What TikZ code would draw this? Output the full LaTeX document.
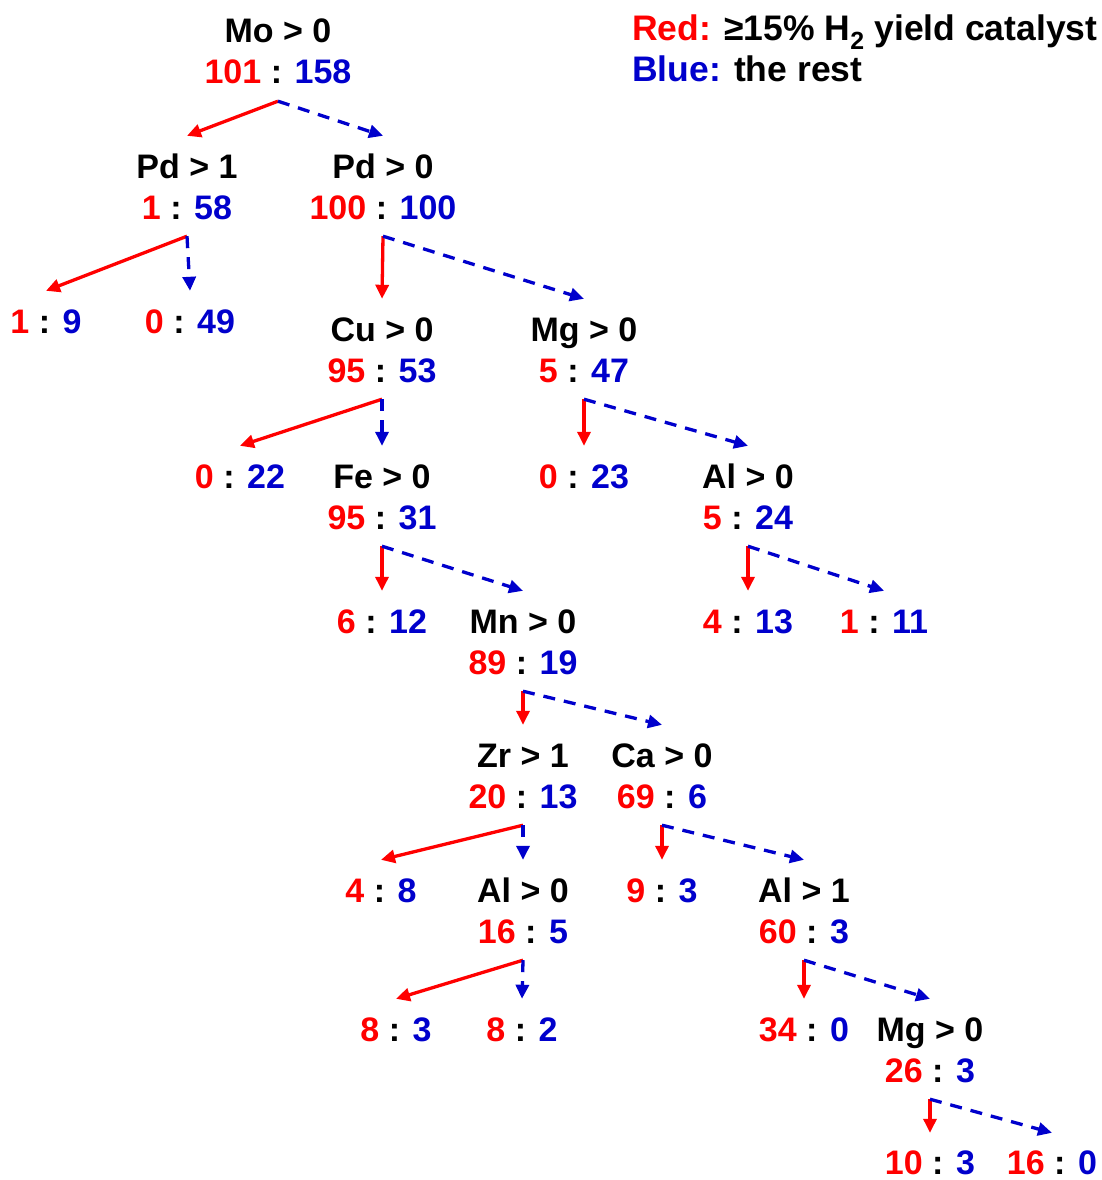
\documentclass[tikz,border=0pt]{standalone}
\usepackage{fontspec}
\setmainfont{Liberation Sans}
\usepackage{xcolor}
\usepackage{tikz}
\usetikzlibrary{arrows.meta, positioning}

\definecolor{tred}{HTML}{FF0000}
\definecolor{tblue}{HTML}{0000CC}
\newcommand{\redn}[1]{\textcolor{tred}{#1}}
\newcommand{\bluen}[1]{\textcolor{tblue}{#1}}

\tikzset{
  %% Split condition (first line)
  cond/.style={
    anchor=base, inner xsep=0pt, inner ysep=17pt,
    text height=25pt, text depth=0pt,
    font=\bfseries\fontsize{34}{41}\selectfont
  },
  %% Red : blue counts
  cnt/.style={cond},
  %% Legend lines
  legtxt/.style={
    anchor=base west, inner sep=0pt,
    font=\bfseries\fontsize{35.5}{41}\selectfont
  },
  %% Arrows
  rarr/.style={-{Triangle[length=14pt,width=13pt]},
               draw=tred, line width=3.3pt},
  barr/.style={-{Triangle[length=14pt,width=13pt]},
               draw=tblue, line width=3.3pt,
               dash pattern=on 12pt off 9pt},
}

\begin{document}
\begin{tikzpicture}[x=1pt, y=-1pt]

  \useasboundingbox (0,0) rectangle (1102,1180);

  %% Legend
  \node[legtxt] (leg1) at (632,41)
        {\redn{Red:} ≥15\% H\textsubscript{2} yield catalyst};
  \node[legtxt] (leg2) at (632,82)
        {\bluen{Blue:} the rest};

  %% Root
  \node[cond] (mo) at (278,43) {Mo > 0};
  \node[cnt] (moC) at ([yshift=-41pt]mo.base) {\redn{101} : \bluen{158}};

  %% Level 1
  \node[cond] (pdA) at (187,178) {Pd > 1};
  \node[cnt] (pdAC) at ([yshift=-41pt]pdA.base) {\redn{1} : \bluen{58}};
  \node[cond] (pdB) at (383,178) {Pd > 0};
  \node[cnt] (pdBC) at ([yshift=-41pt]pdB.base) {\redn{100} : \bluen{100}};

  %% Level 2
  \node[cnt] (l19)  at (46,333)  {\redn{1} : \bluen{9}};
  \node[cnt] (l049) at (190,333) {\redn{0} : \bluen{49}};
  \node[cond] (cu) at (382,341) {Cu > 0};
  \node[cnt] (cuC) at ([yshift=-41pt]cu.base) {\redn{95} : \bluen{53}};
  \node[cond] (mgA) at (584,341) {Mg > 0};
  \node[cnt] (mgAC) at ([yshift=-41pt]mgA.base) {\redn{5} : \bluen{47}};

  %% Level 3
  \node[cnt] (l022) at (240,488) {\redn{0} : \bluen{22}};
  \node[cond] (fe) at (382,488) {Fe > 0};
  \node[cnt] (feC) at ([yshift=-41pt]fe.base) {\redn{95} : \bluen{31}};
  \node[cnt] (l023) at (584,488) {\redn{0} : \bluen{23}};
  \node[cond] (alA) at (748,488) {Al > 0};
  \node[cnt] (alAC) at ([yshift=-41pt]alA.base) {\redn{5} : \bluen{24}};

  %% Level 4
  \node[cnt] (l612) at (382,633) {\redn{6} : \bluen{12}};
  \node[cond] (mn) at (523,633) {Mn > 0};
  \node[cnt] (mnC) at ([yshift=-41pt]mn.base) {\redn{89} : \bluen{19}};
  \node[cnt] (l413) at (748,633) {\redn{4} : \bluen{13}};
  \node[cnt] (l111) at (884,633) {\redn{1} : \bluen{11}};

  %% Level 5
  \node[cond] (zr) at (523,767) {Zr > 1};
  \node[cnt] (zrC) at ([yshift=-41pt]zr.base) {\redn{20} : \bluen{13}};
  \node[cond] (ca) at (662,767) {Ca > 0};
  \node[cnt] (caC) at ([yshift=-41pt]ca.base) {\redn{69} : \bluen{6}};

  %% Level 6
  \node[cnt] (l48) at (381,902) {\redn{4} : \bluen{8}};
  \node[cond] (alB) at (523,902) {Al > 0};
  \node[cnt] (alBC) at ([yshift=-41pt]alB.base) {\redn{16} : \bluen{5}};
  \node[cnt] (l93) at (662,902) {\redn{9} : \bluen{3}};
  \node[cond] (alC) at (804,902) {Al > 1};
  \node[cnt] (alCC) at ([yshift=-41pt]alC.base) {\redn{60} : \bluen{3}};

  %% Level 7
  \node[cnt] (l83)  at (396,1041) {\redn{8} : \bluen{3}};
  \node[cnt] (l82)  at (522,1041) {\redn{8} : \bluen{2}};
  \node[cnt] (l340) at (804,1041) {\redn{34} : \bluen{0}};
  \node[cond] (mgB) at (930,1041) {Mg > 0};
  \node[cnt] (mgBC) at ([yshift=-41pt]mgB.base) {\redn{26} : \bluen{3}};

  %% Level 8
  \node[cnt, inner ysep=0pt] (l103) at (930,1174)  {\redn{10} : \bluen{3}};
  \node[cnt, inner ysep=0pt] (l160) at (1052,1174) {\redn{16} : \bluen{0}};

  %% Red branches
  \foreach \a/\b in {moC/pdA, pdAC/l19, pdBC/cu, cuC/l022, mgAC/l023,
                     feC/l612, alAC/l413, mnC/zr, zrC/l48, caC/l93,
                     alBC/l83, alCC/l340}
    \draw[rarr] (\a.south) -- (\b.north);
  \draw[rarr] (mgBC.south) -- ([yshift=16pt]l103.north);

  %% Blue branches
  \foreach \a/\b in {moC/pdB, pdAC/l049, pdBC/mgA, cuC/fe, mgAC/alA,
                     feC/mn, alAC/l111, mnC/ca, zrC/alB, caC/alC,
                     alBC/l82, alCC/mgB}
    \draw[barr] (\a.south) -- (\b.north);
  \draw[barr] (mgBC.south) -- ([yshift=16pt]l160.north);

\end{tikzpicture}
\end{document}
